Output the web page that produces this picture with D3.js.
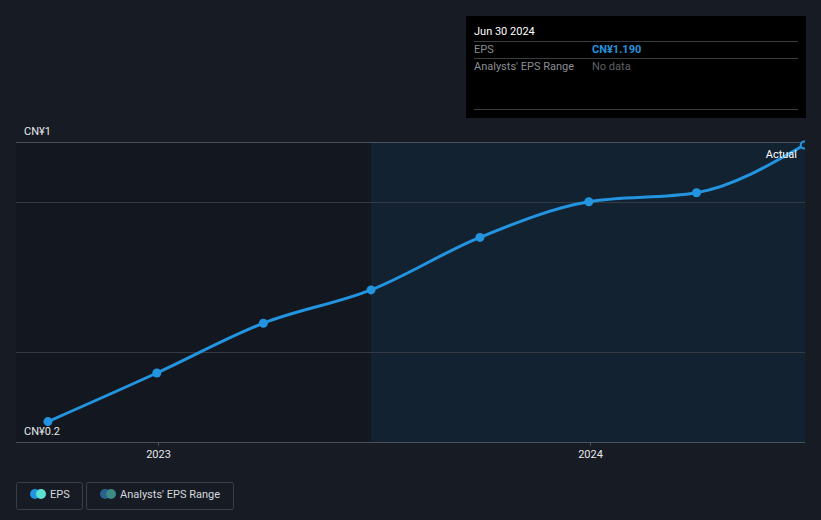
<!DOCTYPE html>
<html><head><meta charset="utf-8">
<script src="https://cdn.jsdelivr.net/npm/d3@7"></script>
<style>
html,body{margin:0;padding:0;background:#161b24;}
svg{display:block;font-family:Roboto,"Noto Sans",sans-serif;}
</style></head>
<body>
<svg id="c" width="821" height="520"></svg>
<script>
const dates = ["2022-09-30","2022-12-31","2023-03-31","2023-06-30","2023-09-30","2023-12-31","2024-03-31","2024-06-30"];
const eps = [0.268, 0.43, 0.596, 0.707, 0.882, 1.001, 1.031, 1.19];
const xTickDates = ["2023-01-01","2024-01-01"];
const xTickLabels = ["2023","2024"];
const yTickValues = [0.2, 1.2];
const yTickLabels = ["CN¥0.2","CN¥1"];
const gridValues = [0.5, 1.0, 1.2];
const pastStart = "2023-06-30";
const tooltipDate = "Jun 30 2024";
const tooltipEps = "CN¥1.190";
const legendLabels = ["EPS","Analysts' EPS Range"];

(function () {
const parse = d3.utcParse("%Y-%m-%d");
const svg = d3.select("#c");
const W = 821, H = 520;
const pL = 16, pR = 805, pT = 142, pB = 442;

const x = d3.scaleUtc().domain([parse("2023-01-01"), parse("2024-01-01")]).range([158, 590]);
const y = d3.scaleLinear().domain([0.2, 1.2]).range([pB, pT]);

svg.append("rect").attr("width", W).attr("height", H).attr("fill", "#161b24");

// plot regions
const xs = x(parse(pastStart));
svg.append("rect").attr("x", pL).attr("y", pT).attr("width", xs - pL).attr("height", pB - pT).attr("fill", "#13171f");
svg.append("rect").attr("x", xs).attr("y", pT).attr("width", pR - xs).attr("height", pB - pT).attr("fill", "#132231");

// gridlines
svg.append("g").selectAll("line").data(gridValues).join("line")
  .attr("x1", pL).attr("x2", pR)
  .attr("y1", d => Math.round(y(d)) + 0.5).attr("y2", d => Math.round(y(d)) + 0.5)
  .attr("stroke", d => d === 1.2 ? "#4a515c" : "#343a44").attr("stroke-width", 1);

// x axis
const xAxis = d3.axisBottom(x).tickValues(xTickDates.map(parse)).tickFormat((d, i) => xTickLabels[i]).tickSize(4).tickPadding(4);
const gx = svg.append("g").attr("transform", `translate(0,${pB})`).call(xAxis);
gx.select(".domain").remove();
gx.append("line").attr("x1", pL).attr("x2", pR).attr("y1", 0.5).attr("y2", 0.5).attr("stroke", "#4a515c");
gx.selectAll(".tick line").attr("stroke", "#4a515c");
gx.selectAll(".tick text").attr("fill", "#e6e8eb").attr("font-size", 11).attr("font-family", "Roboto, sans-serif");

// y labels
svg.append("g").selectAll("text").data(yTickValues).join("text")
  .attr("x", 24).attr("y", d => y(d) - 7)
  .attr("fill", "#e6e8eb").attr("font-size", 11)
  .text((d, i) => yTickLabels[i]);

// clip
svg.append("clipPath").attr("id", "clip").append("rect").attr("x", pL).attr("y", 0).attr("width", pR - pL).attr("height", H);

const data = dates.map((d, i) => ({ date: parse(d), v: eps[i] }));
const line = d3.line().x(d => x(d.date)).y(d => y(d.v)).curve(d3.curveMonotoneX);
const g = svg.append("g").attr("clip-path", "url(#clip)");
g.append("path").datum(data).attr("d", line).attr("fill", "none").attr("stroke", "#2394df").attr("stroke-width", 3);
g.selectAll("circle").data(data).join("circle")
  .attr("cx", d => x(d.date)).attr("cy", d => y(d.v))
  .attr("r", (d, i) => i === data.length - 1 ? 3.5 : 4.5)
  .attr("fill", (d, i) => i === data.length - 1 ? "#132231" : "#2394df")
  .attr("stroke", "#2394df").attr("stroke-width", (d, i) => i === data.length - 1 ? 2 : 0);

svg.append("text").attr("x", 797).attr("y", 158).attr("text-anchor", "end")
  .attr("fill", "#ffffff").attr("font-size", 11).text("Actual");

// tooltip
const tt = svg.append("g");
tt.append("rect").attr("x", 466).attr("y", 16).attr("width", 340).attr("height", 102).attr("fill", "#000000");
tt.append("text").attr("x", 474).attr("y", 35).attr("fill", "#ffffff").attr("font-size", 11).text(tooltipDate);
[41.5, 58.5, 109.5].forEach(yy => tt.append("line").attr("x1", 474).attr("x2", 798).attr("y1", yy).attr("y2", yy).attr("stroke", "#3a3d42"));
tt.append("text").attr("x", 474).attr("y", 53).attr("fill", "#8a8d92").attr("font-size", 11).text("EPS");
tt.append("text").attr("x", 592).attr("y", 53).attr("fill", "#2394df").attr("font-size", 11).attr("font-weight", "bold").text(tooltipEps);
tt.append("text").attr("x", 474).attr("y", 70).attr("fill", "#8a8d92").attr("font-size", 11).text("Analysts' EPS Range");
tt.append("text").attr("x", 592).attr("y", 70).attr("fill", "#5d6066").attr("font-size", 11).text("No data");

// legend
const lg = svg.append("g");
const boxes = [{ x: 16.5, w: 66, c1: "#2394df", c2: "#5ce0d0" }, { x: 86.5, w: 147, c1: "#2a628f", c2: "#3b8a85" }];
boxes.forEach((b, i) => {
  lg.append("rect").attr("x", b.x).attr("y", 482.5).attr("width", b.w).attr("height", 27).attr("rx", 2)
    .attr("fill", "none").attr("stroke", "#3a3f48");
  lg.append("circle").attr("cx", b.x + 18.5).attr("cy", 494).attr("r", 5).attr("fill", b.c1);
  lg.append("circle").attr("cx", b.x + 24.5).attr("cy", 494).attr("r", 5).attr("fill", b.c2);
  lg.append("text").attr("x", b.x + 33.5).attr("y", 498).attr("fill", "#d7d9dc").attr("font-size", 11).text(legendLabels[i]);
});
})();
</script>
</body></html>
